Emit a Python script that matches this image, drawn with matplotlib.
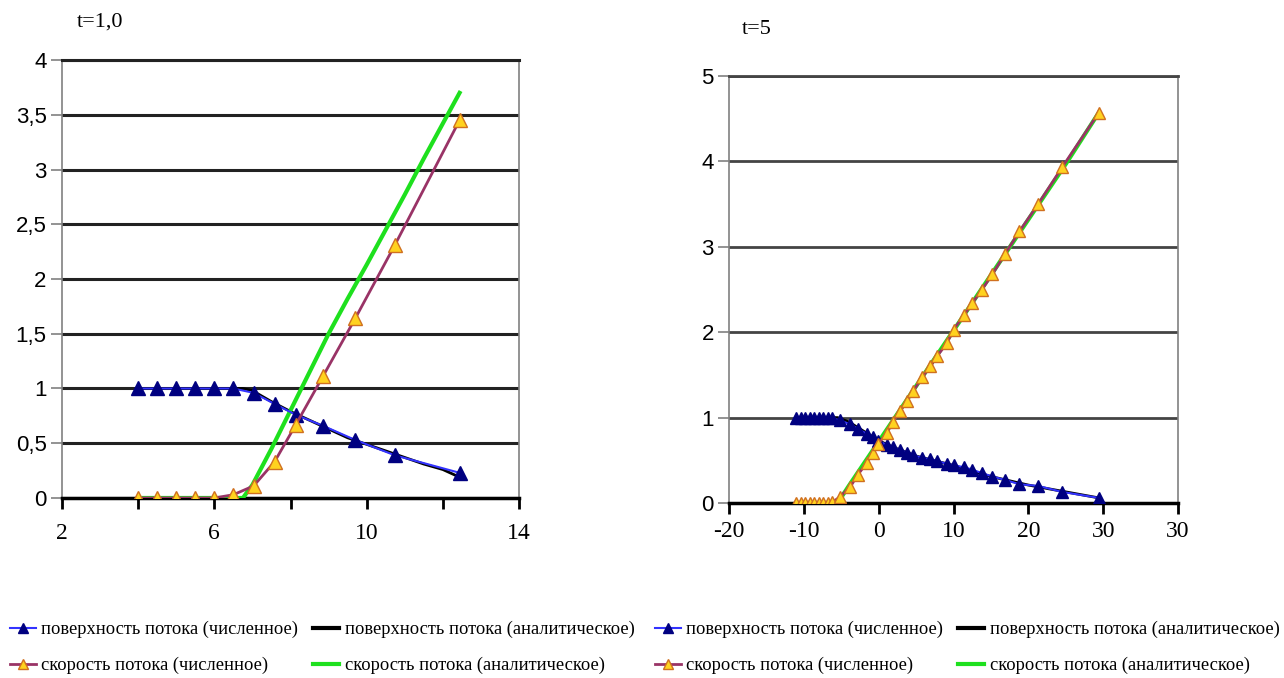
import matplotlib
matplotlib.use("Agg")
import matplotlib.pyplot as plt
from matplotlib.ticker import FuncFormatter

# ----------------------
# данные: t = 1,0 (левый график)
# ----------------------
x_num_left = [4.0, 4.5, 5.0, 5.5, 6.0, 6.5, 7.03, 7.58, 8.14, 8.85, 9.7, 10.74, 12.44]
h_num_left = [1.0, 1.0, 1.0, 1.0, 1.0, 1.0, 0.96, 0.86, 0.76, 0.66, 0.53, 0.39, 0.23]
u_num_left = [0.0, 0.0, 0.0, 0.0, 0.0, 0.03, 0.11, 0.33, 0.67, 1.11, 1.64, 2.31, 3.45]

x_an_left = [4.0, 6.75, 7.0, 7.5, 8.0, 8.5, 9.0, 9.5, 10.0, 10.5, 11.0, 11.5, 12.0, 12.44]
h_an_left = [1.0, 1.0, 0.98, 0.88, 0.79, 0.71, 0.63, 0.55, 0.49, 0.43, 0.37, 0.31, 0.26, 0.19]
u_an_left = [0.0, 0.0, 0.12, 0.45, 0.80, 1.15, 1.50, 1.82, 2.13, 2.45, 2.77, 3.10, 3.42, 3.70]

# ----------------------
# данные: t = 5 (правый график)
# ----------------------
x_num_right = [-11.0, -10.4, -9.8, -9.2, -8.6, -8.0, -7.4, -6.8, -6.2, -5.2, -3.8, -2.8,
               -1.6, -0.8, -0.1, 1.1, 1.9, 2.9, 3.8, 4.6, 5.8, 6.9, 7.8, 9.1, 10.0, 11.4,
               12.5, 13.8, 15.2, 16.9, 18.8, 21.3, 24.5, 29.4]
h_num_right = [1.0, 1.0, 1.0, 1.0, 1.0, 1.0, 1.0, 0.99, 0.99, 0.97, 0.92, 0.87,
               0.81, 0.77, 0.73, 0.68, 0.65, 0.62, 0.59, 0.56, 0.53, 0.51, 0.49, 0.46, 0.44, 0.42,
               0.39, 0.35, 0.31, 0.27, 0.22, 0.20, 0.13, 0.06]
u_num_right = [0.0, 0.0, 0.0, 0.0, 0.0, 0.0, 0.0, 0.0, 0.01, 0.07, 0.19, 0.33,
               0.47, 0.58, 0.69, 0.82, 0.95, 1.08, 1.20, 1.31, 1.47, 1.60, 1.72, 1.87, 2.03, 2.20,
               2.34, 2.50, 2.68, 2.92, 3.18, 3.50, 3.93, 4.57]

x_an_right = [-11.0, -5.5, -4.0, -2.0, 0.0, 2.0, 5.0, 10.0, 15.0, 20.0, 25.0, 29.4]
h_an_right = [1.0, 1.0, 0.95, 0.84, 0.73, 0.65, 0.55, 0.44, 0.31, 0.21, 0.13, 0.06]
u_an_right = [0.0, 0.0, 0.20, 0.46, 0.72, 0.98, 1.37, 2.02, 2.67, 3.32, 3.97, 4.57]

labels = ["поверхность потока (численное)", "скорость потока (численное)",
          "поверхность потока (аналитическое)", "скорость потока (аналитическое)"]

xticks_left = [2, 4, 6, 8, 10, 12, 14]
xlabels_left = ["2", "", "6", "", "10", "", "14"]
yticks_left = [0, 0.5, 1, 1.5, 2, 2.5, 3, 3.5, 4]

xticks_right = [-20, -10, 0, 10, 20, 30, 40]
xlabels_right = ["-20", "-10", "0", "10", "20", "30", "30"]
yticks_right = [0, 1, 2, 3, 4, 5]

serif = "Liberation Serif"
sans = "Liberation Sans"

fig = plt.figure(figsize=(12.84, 6.78), dpi=100)
ax1 = fig.add_axes([0.0483, 0.2655, 0.3559, 0.646])
ax2 = fig.add_axes([0.5678, 0.2581, 0.3497, 0.6298])


def draw(ax, xn, hn, un, xa, ha, ua, ms, grid_color, grid_lw):
    ax.plot(xa, ha, color="black", lw=2, zorder=3)
    ax.plot(xa, ua, color="#1EE01E", lw=3, zorder=3)
    l1, = ax.plot(xn, hn, color="#3333FF", lw=1.5, marker="^", ms=ms,
                  mfc="#000080", mec="#000080", zorder=4)
    l2, = ax.plot(xn, un, color="#993366", lw=2, marker="^", ms=ms,
                  mfc="#FFD21F", mec="#D07020", mew=1, zorder=4)
    ax.yaxis.grid(True, color=grid_color, lw=grid_lw)
    ax.set_axisbelow(True)
    for s in ["left", "right"]:
        ax.spines[s].set_color("#808080")
        ax.spines[s].set_linewidth(1.2)
    ax.spines["top"].set_color(grid_color)
    ax.spines["top"].set_linewidth(grid_lw)
    ax.spines["bottom"].set_color("black")
    ax.spines["bottom"].set_linewidth(2.5)
    ax.tick_params(axis="y", length=8, width=1.2, color="#808080", labelsize=16, pad=3)
    ax.tick_params(axis="x", length=8, width=2, color="black", labelsize=17)
    for t in ax.get_yticklabels():
        t.set_fontfamily(sans)
    for t in ax.get_xticklabels():
        t.set_fontfamily(serif)
    return l1, l2


# ----------------------
# левый график
# ----------------------
ax1.set_xlim(2, 14)
ax1.set_ylim(0, 4)
ax1.set_xticks(xticks_left)
ax1.set_xticklabels(xlabels_left)
ax1.set_yticks(yticks_left)
ax1.yaxis.set_major_formatter(FuncFormatter(lambda v, p: ("%g" % v).replace(".", ",")))
l1, l2 = draw(ax1, x_num_left, h_num_left, u_num_left,
              x_an_left, h_an_left, u_an_left, 9.5, "#222222", 2.2)
ax1.tick_params(axis="x", pad=10)
ax1.text(0.078, 1 - 22 / 678, "t=1,0", transform=fig.transFigure, fontsize=16,
         family=serif, ha="center", va="center")

# ----------------------
# правый график
# ----------------------
ax2.set_xlim(-20, 40)
ax2.set_ylim(0, 5)
ax2.set_xticks(xticks_right)
ax2.set_xticklabels(xlabels_right)
ax2.set_yticks(yticks_right)
draw(ax2, x_num_right, h_num_right, u_num_right,
     x_an_right, h_an_right, u_an_right, 8.5, "#444444", 2)
ax2.tick_params(axis="x", pad=5)
ax2.text(757 / 1284, 1 - 30 / 678, "t=5", transform=fig.transFigure, fontsize=16,
         family=serif, ha="center", va="center")

# ----------------------
# легенды
# ----------------------
h_an_line = plt.Line2D([], [], color="black", lw=3)
u_an_line = plt.Line2D([], [], color="#1EE01E", lw=3)
handles = [l1, l2, h_an_line, u_an_line]
for x0 in [10 / 1284, 655 / 1284]:
    fig.legend(handles, labels, ncol=2, loc="upper left",
               bbox_to_anchor=(x0, 1 - 621 / 678), frameon=False,
               prop={"family": serif, "size": 13.3}, handlelength=1.4,
               handletextpad=0.3, columnspacing=0.8, labelspacing=1.0,
               borderaxespad=0, borderpad=0, markerscale=0.7)

fig.savefig("out.png", dpi=100)
plt.close(fig)
